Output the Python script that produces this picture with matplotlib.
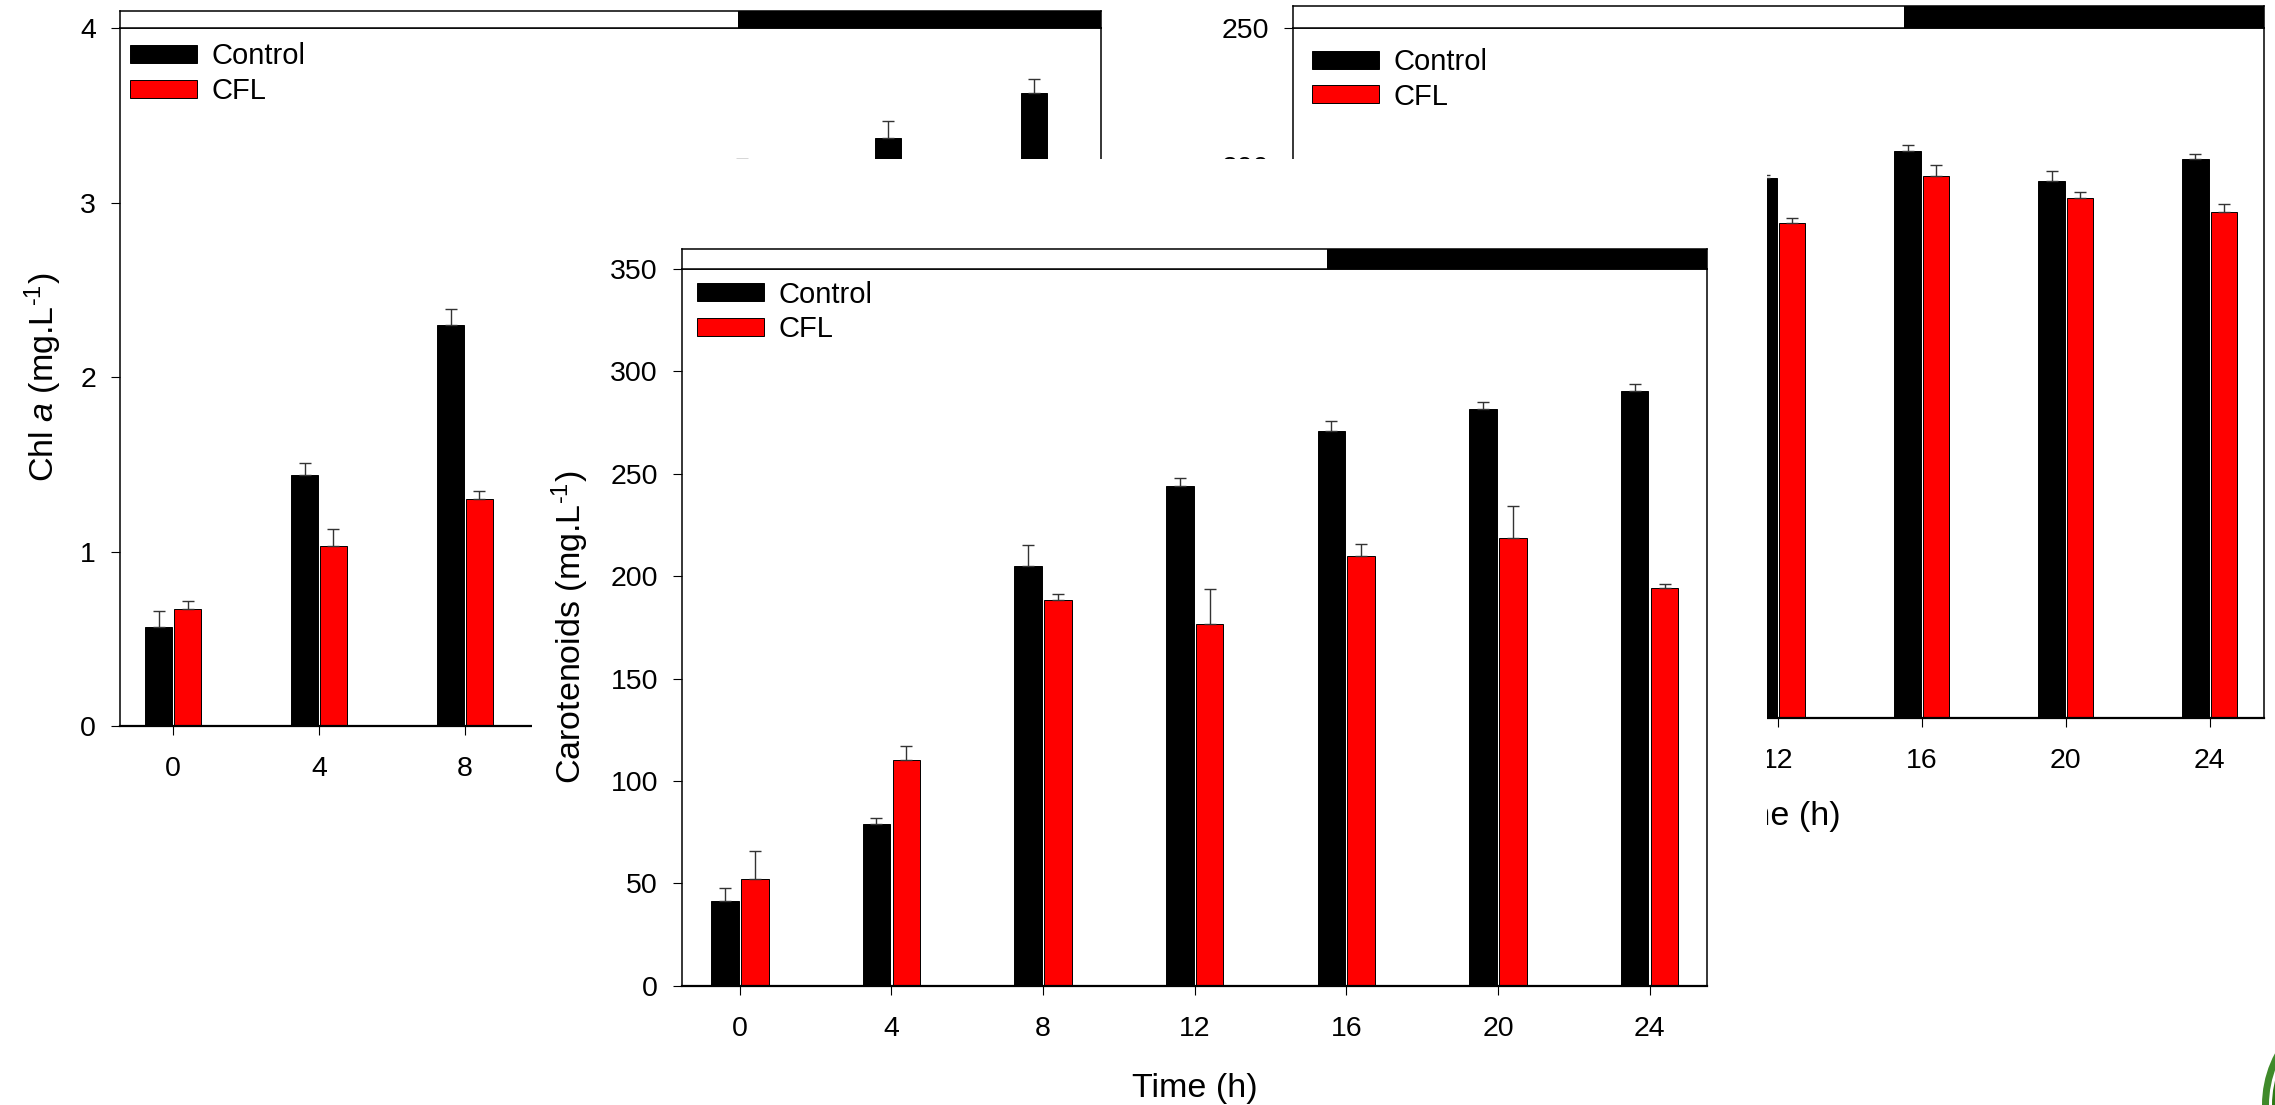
import numpy as np
import matplotlib
matplotlib.use("Agg")
import matplotlib.pyplot as plt
from matplotlib.patches import Rectangle, Ellipse

plt.rcParams['font.family'] = ['Liberation Sans', 'DejaVu Sans']
plt.rcParams['mathtext.fontset'] = 'custom'
plt.rcParams['mathtext.rm'] = 'Liberation Sans'
plt.rcParams['mathtext.it'] = 'Liberation Sans:italic'

# data (bars hidden behind the front panel are estimates)
time_h = [0, 4, 8, 12, 16, 20, 24]
series_names = ['Control', 'CFL']
series_colors = ['#000000', '#ff0000']
light_end = 15.5

chl_control = [0.57, 1.44, 2.30, 2.85, 3.15, 3.37, 3.63]
chl_control_err = [0.09, 0.07, 0.09, 0.09, 0.10, 0.10, 0.08]
chl_cfl = [0.67, 1.03, 1.30, 1.55, 1.80, 1.95, 2.05]
chl_cfl_err = [0.05, 0.10, 0.05, 0.08, 0.08, 0.08, 0.08]

mid_control = [40.0, 105.0, 165.0, 195.7, 205.6, 194.5, 202.6]
mid_control_err = [4.0, 5.0, 6.0, 1.0, 2.1, 3.9, 2.0]
mid_cfl = [48.0, 98.0, 150.0, 179.5, 196.5, 188.5, 183.4]
mid_cfl_err = [4.0, 5.0, 6.0, 1.9, 4.0, 2.3, 3.0]

car_control = [41.5, 78.8, 205.0, 244.0, 271.0, 281.4, 290.6]
car_control_err = [6.3, 3.2, 10.0, 4.0, 4.7, 3.8, 3.0]
car_cfl = [52.2, 110.0, 188.6, 176.4, 209.8, 218.4, 194.3]
car_cfl_err = [13.4, 7.2, 2.9, 17.2, 5.7, 15.8, 2.0]

W, H = 2275, 1105


def rect(left, top, right, bottom):
    return [left / W, 1 - bottom / H, (right - left) / W, (bottom - top) / H]


def draw_panel(fig, box, bar_top, xlim, ylim, ystep, control, control_err,
               cfl, cfl_err, leg_off, shown_ticks=None, xlabel=True,
               ylabel=None, ylabel_x=None, z=1):
    left, top, right, bottom = box
    ax = fig.add_axes(rect(left, top, right, bottom), zorder=z)
    t = np.array(time_h)
    w = 0.73
    vals = [(control, control_err), (cfl, cfl_err)]
    for i, (v, e) in enumerate(vals):
        xs = t + (-0.395 if i == 0 else 0.395)
        ax.bar(xs, v, width=w, color=series_colors[i], edgecolor='black',
               linewidth=0.7, label=series_names[i], zorder=2)
        ax.errorbar(xs, v, yerr=[np.zeros(len(e)), e], fmt='none',
                    ecolor='#333333', elinewidth=1.0, capsize=4.4,
                    capthick=1.0, zorder=3)
    ax.set_xlim(*xlim)
    ax.set_ylim(*ylim)
    ax.set_xticks(time_h)
    if shown_ticks is not None:
        # labels that would sit behind the front panel are left blank
        ax.set_xticklabels([str(h) if h in shown_ticks else '' for h in time_h])
    ax.set_yticks(np.arange(ylim[0], ylim[1] + ystep / 2, ystep))
    ax.tick_params(direction='out', length=6.5, width=0.8, labelsize=20.5)
    ax.tick_params(axis='x', pad=15)
    ax.tick_params(axis='y', pad=10.5)
    for s in ax.spines.values():
        s.set_linewidth(1.1)
    ax.spines['bottom'].set_linewidth(1.6)

    if xlabel:
        ax.set_xlabel('Time (h)', fontsize=24.5, va='center')
        ax.xaxis.set_label_coords(0.5, -0.1430)
    if ylabel:
        ax.set_ylabel(ylabel, fontsize=24.5, va='center')
        ax.yaxis.set_label_coords(ylabel_x, 0.5)

    # legend placed from pixel offsets
    ax_w, ax_h = right - left, bottom - top
    ax.legend(loc='upper left', bbox_to_anchor=(leg_off[0] / ax_w, 1 - leg_off[1] / ax_h),
              frameon=False, fontsize=21, borderpad=0, borderaxespad=0,
              handlelength=2.3, handleheight=0.58, handletextpad=0.5,
              labelspacing=0.22)

    # light / dark bar above the panel
    bx = fig.add_axes(rect(left, bar_top, right, top), zorder=z)
    bx.axvspan(xlim[0], light_end, facecolor='white', edgecolor='none')
    bx.axvspan(light_end, xlim[1], facecolor='black', edgecolor='none')
    bx.set_xlim(*xlim)
    bx.set_ylim(0, 1)
    bx.set_xticks([])
    bx.set_yticks([])
    for s in bx.spines.values():
        s.set_linewidth(1.1)
    return ax


fig = plt.figure(figsize=(W / 100, H / 100), dpi=100)

unit = 'mg.L$^{\u2010 1}$'

# back-left panel: chlorophyll a (right part sits behind the front panel)
draw_panel(fig, (119.6, 28, 1100.5, 726.3), 11, (-1.47, 25.43), (0, 4), 1,
           chl_control, chl_control_err, chl_cfl, chl_cfl_err, (10.4, 14.5),
           shown_ticks=[0, 4, 8], xlabel=False,
           ylabel=r'Chl $\it{a}$ (' + unit + ')', ylabel_x=-0.078, z=1)

# back-right panel
draw_panel(fig, (1292.6, 28.3, 2263.6, 718), 6, (-1.49, 25.5), (0, 250), 50,
           mid_control, mid_control_err, mid_cfl, mid_cfl_err, (19, 20),
           shown_ticks=[12, 16, 20, 24], z=1)

# white backing of the front panel
fig.add_artist(Rectangle((532 / W, 0), (1767 - 532) / W, 1 - 159 / H,
                         transform=fig.transFigure, facecolor='white',
                         edgecolor='none', zorder=2))

# front panel: carotenoids
draw_panel(fig, (681.6, 269, 1707.2, 985.7), 249.3, (-1.535, 25.52), (0, 350), 50,
           car_control, car_control_err, car_cfl, car_cfl_err, (15.4, 11.6),
           ylabel='Carotenoids (' + unit + ')', ylabel_x=-0.109, z=3)

# partial logo at bottom-right corner
for r, col in [(110, '#3f8a2a'), (103, 'white'), (100, '#2d7a14')]:
    fig.add_artist(Ellipse((2372 / W, 0), 2 * r / W, 2 * r / H,
                           transform=fig.transFigure, facecolor=col,
                           edgecolor='none', zorder=4))

fig.savefig('out.png', dpi=100)
